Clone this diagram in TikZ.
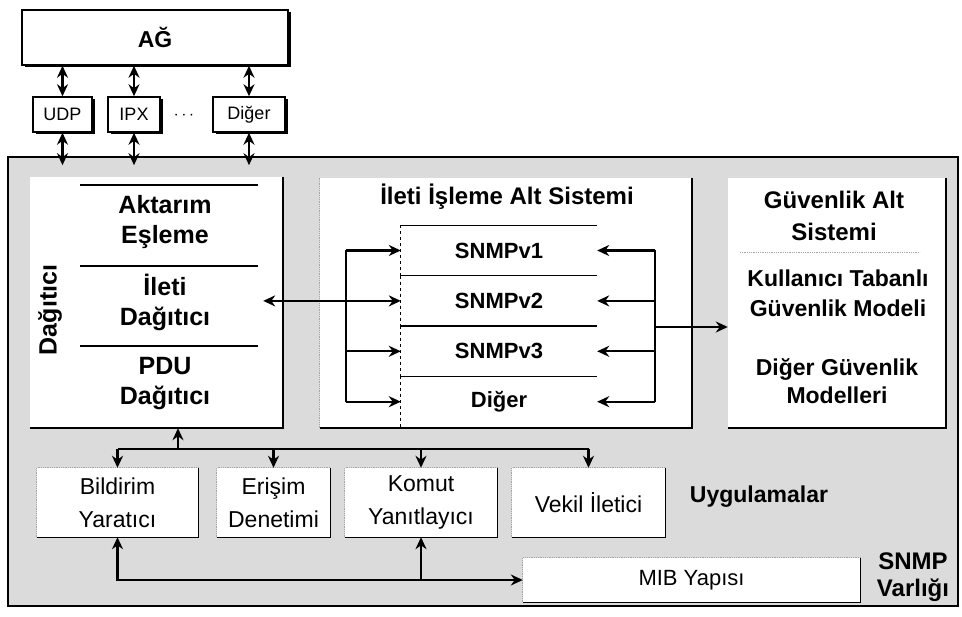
\documentclass[tikz,border=0pt]{standalone}
\usepackage{fontspec}
\setmainfont{Liberation Sans}
\usepackage{tikz}
\usetikzlibrary{arrows.meta,positioning,shadows,calc}
\tikzset{
  netbox/.style={draw, line width=1.5pt, fill=white, align=center, inner sep=0pt,
    drop shadow={shadow xshift=2.5pt, shadow yshift=-2.5pt, opacity=1, fill=black}},
  panel/.style={fill=white, inner sep=0pt},
  appbox/.style={fill=white, align=center, inner sep=0pt, minimum height=69pt, font=\fontsize{23}{33}\selectfont},
  verbox/.style={minimum width=196pt, minimum height=50pt, inner sep=0pt, font=\fontsize{22}{26}\bfseries\selectfont},
  bigtxt/.style={align=center, inner sep=0pt, font=\fontsize{25}{30}\bfseries\selectfont},
  wire/.style={line width=2.3pt},
  arr/.style={wire, -{Stealth[length=12pt,width=11pt]}},
  darr/.style={wire, {Stealth[length=12pt,width=11pt]}-{Stealth[length=12pt,width=11pt]}},
  rim/.style={line width=2.2pt},
  thinrim/.style={line width=1.3pt},
  faint/.style={densely dotted, black!35, line width=0.8pt}
}

\begin{document}
\begin{tikzpicture}[x=1pt, y=-1pt]
  \useasboundingbox (0,0) rectangle (962,617);
  \node[netbox, minimum width=266pt, minimum height=55pt, font=\fontsize{23}{26}\bfseries\selectfont] (ag) at (155,37.5) {AĞ};
  \node[netbox, minimum width=59pt, minimum height=35pt, font=\fontsize{18}{20}\selectfont] (udp) at (62.5,114.5) {UDP};
  \node[netbox, minimum width=52pt, minimum height=35pt, font=\fontsize{18}{20}\selectfont] (ipx) at (134,114.5) {IPX};
  \node[netbox, minimum width=72pt, minimum height=35pt, font=\fontsize{18}{20}\selectfont] (diger) at (249,114.5) {Diğer};
  \node[font=\fontsize{17}{20}\selectfont] (dots) at (184,116) {$\cdots$};

  \node[draw, line width=1.6pt, fill=black!14, minimum width=950pt, minimum height=449pt] (varlik) at (483,381.5) {};

  \node[panel, minimum width=253pt, minimum height=251pt] (dagitici) at (156.5,302.5) {};
  \node[panel, minimum width=372pt, minimum height=250pt] (ileti) at (506,303) {};
  \node[panel, minimum width=218pt, minimum height=250pt] (guv) at (837,303) {};
  \draw[rim] (dagitici.north east) |- (dagitici.south west);
  \draw[rim] (ileti.north east) |- (ileti.south west);
  \draw[rim] (guv.north east) |- (guv.south west);
  \draw[faint] (ileti.south west) -- (ileti.north west);

  \node[bigtxt, rotate=90] (dagtxt) at (50,310) {Dağıtıcı};
  \draw[thinrim] (80,185) -- (258,185);
  \draw[thinrim] (80,266) -- (258,266);
  \draw[thinrim] (80,346) -- (258,346);
  \node[bigtxt] (aktarim) at (165,222) {Aktarım\\Eşleme};
  \node[bigtxt] (iletidag) at (165,302) {İleti\\Dağıtıcı};
  \node[bigtxt] (pdu) at (165,384) {PDU\\Dağıtıcı};

  \node[bigtxt, font=\fontsize{24}{30}\bfseries\selectfont] (iletibas) at (507,197) {İleti İşleme Alt Sistemi};
  \node[verbox] (v1) at (499,250.5) {SNMPv1};
  \node[verbox, below=0pt of v1] (v2) {SNMPv2};
  \node[verbox, below=0pt of v2] (v3) {SNMPv3};
  \node[verbox, below=0pt of v3] (dg) {Diğer};
  \foreach \v in {v1,v2,v3,dg} {
    \draw[thinrim] (\v.north west) -- (\v.north east);
    \draw[thinrim, dashed] (\v.north west) -- (\v.south west);
  }

  \node[bigtxt, font=\fontsize{24}{32}\bfseries\selectfont] (guvbas) at (834,216) {Güvenlik Alt\\Sistemi};
  \draw[faint] (740,252) -- (920,252);
  \node[bigtxt, font=\fontsize{23}{30}\bfseries\selectfont] (kullanici) at (838,293) {Kullanıcı Tabanlı\\Güvenlik Modeli};
  \node[bigtxt, font=\fontsize{23}{28}\bfseries\selectfont] (digermod) at (837,381) {Diğer Güvenlik\\Modelleri};

  \node[appbox, minimum width=161pt] (bildirim) at (117.5,502.5) {Bildirim\\Yaratıcı};
  \node[appbox, minimum width=113pt] (erisim) at (273.5,502.5) {Erişim\\Denetimi};
  \node[appbox, minimum width=152pt] (komut) at (421,502.5) {Komut\\Yanıtlayıcı};
  \node[appbox, minimum width=153pt] (vekil) at (588.5,502.5) {Vekil İletici};
  \node[panel, minimum width=337pt, minimum height=44pt, font=\fontsize{22}{26}\selectfont] (mib) at (691.5,580) {MIB Yapısı};
  \foreach \b in {bildirim,erisim,komut,vekil,mib} {
    \draw[thinrim] (\b.north east) |- (\b.south west);
    \draw[faint] (\b.south west) |- (\b.north east);
  }
  \node[bigtxt, font=\fontsize{23}{28}\bfseries\selectfont] (uyg) at (759,497) {Uygulamalar};
  \node[bigtxt, font=\fontsize{24}{27}\bfseries\selectfont] (snmp) at (913,577) {SNMP\\Varlığı};

  \foreach \p in {udp,ipx,diger} {
    \draw[darr] (\p.north) -- (\p.north |- ag.south);
    \draw[darr, shorten >=-9pt] (\p.south) -- (\p.south |- varlik.north);
  }

  \coordinate (lbus) at (346,300);
  \coordinate (rbus) at (655,327);
  \draw[darr] ($(dagitici.east |- v2.west)+(-20,0)$) -- (v2.west);
  \draw[wire] (lbus |- v1.west) -- (lbus |- dg.west);
  \foreach \v in {v1,v3,dg}
    \draw[arr] (lbus |- \v.west) -- (\v.west);
  \draw[wire] (rbus |- v1.east) -- (rbus |- dg.east);
  \foreach \v in {v1,v2,v3,dg}
    \draw[arr] (rbus |- \v.east) -- (\v.east);
  \draw[arr] (rbus) -- (rbus -| guv.west);

  \coordinate (abus) at (178,449);
  \draw[arr] (abus) -- (abus |- dagitici.south);
  \draw[wire] (bildirim.north |- abus) -- (vekil.north |- abus);
  \foreach \a in {bildirim,erisim,komut,vekil}
    \draw[arr] (\a.north |- abus) -- (\a.north);
  \draw[darr] (bildirim.south) |- (mib.west);
  \draw[arr] (komut.south |- mib.west) -- (komut.south);
\end{tikzpicture}
\end{document}
